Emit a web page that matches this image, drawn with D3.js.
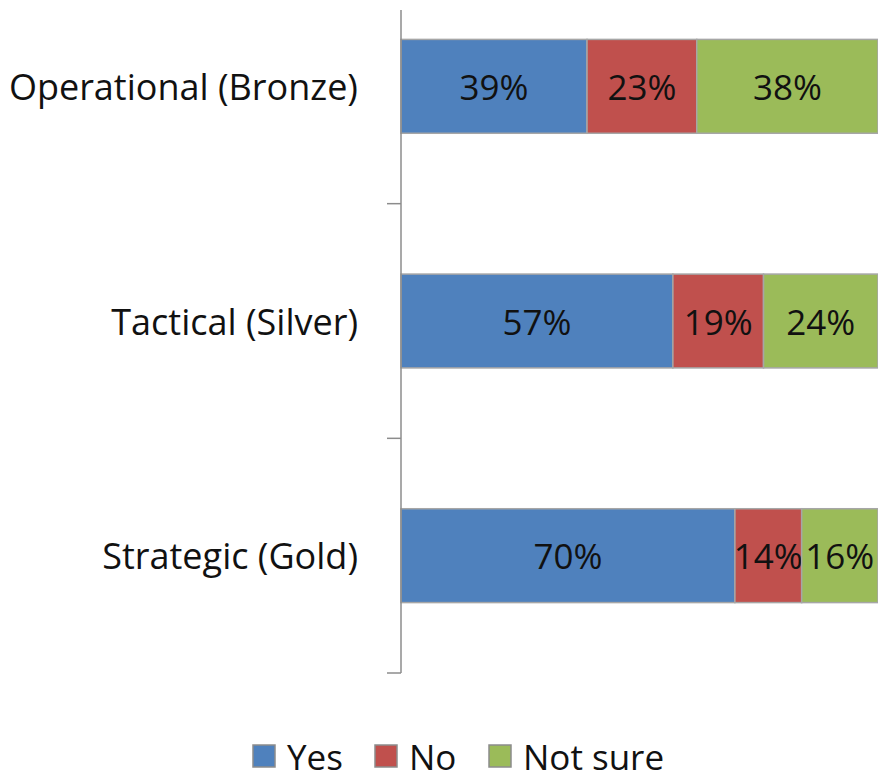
<!DOCTYPE html>
<html>
<head>
<meta charset="utf-8">
<script src="https://cdn.jsdelivr.net/npm/d3@7"></script>
<style>
  body { margin: 0; background: #fff; }
  .svg-frame { width: 878px; height: 778px; }
  text { font-family: "Open Sans", "Noto Sans", sans-serif; fill: #111; }
</style>
</head>
<body>
<div class="svg-frame"></div>
<script>
const categories = ["Operational (Bronze)", "Tactical (Silver)", "Strategic (Gold)"]
const seriesNames = ["Yes", "No", "Not sure"]
const yesValues = [39, 57, 70]
const noValues = [23, 19, 14]
const notSureValues = [38, 24, 16]
const colors = ["#4f81bd", "#c0504d", "#9bbb59"]

function drawViz() {
  const svg = d3.select(".svg-frame")
    .append("svg")
    .attr("width", 878)
    .attr("height", 778)

  const rows = categories.map((c, i) => ({
    category: c,
    "Yes": yesValues[i],
    "No": noValues[i],
    "Not sure": notSureValues[i]
  }))
  const stacked = d3.stack().keys(seriesNames)(rows)

  const xScale = d3.scaleLinear([0, 100], [401, 878])
  const yScale = d3.scaleBand(categories, [-31, 673])
    .paddingInner(0.6)
    .paddingOuter(0.3)
  const colorScale = d3.scaleOrdinal(seriesNames, colors)
  const fontSize = 35

  // bars
  const groups = svg.selectAll("g.series")
    .data(stacked)
    .join("g")
      .attr("class", "series")
      .attr("fill", d => colorScale(d.key))

  groups.selectAll("rect")
    .data(d => d)
    .join("rect")
      .attr("x", d => xScale(d[0]))
      .attr("y", d => yScale(d.data.category))
      .attr("width", d => xScale(d[1]) - xScale(d[0]))
      .attr("height", yScale.bandwidth())
      .attr("stroke", "#a6a6a6")
      .attr("stroke-width", 1.5)

  // data labels
  groups.selectAll("text")
    .data(d => d)
    .join("text")
      .attr("x", d => (xScale(d[0]) + xScale(d[1])) / 2)
      .attr("y", d => yScale(d.data.category) + yScale.bandwidth() / 2)
      .attr("text-anchor", "middle")
      .attr("dominant-baseline", "central")
      .attr("font-size", fontSize)
      .text(d => `${d[1] - d[0]}%`)

  // axis line + ticks at band boundaries
  const step = yScale.step()
  const x0 = xScale(0)
  svg.append("line")
    .attr("x1", x0).attr("x2", x0)
    .attr("y1", 10).attr("y2", yScale.range()[1])
    .attr("stroke", "#8c8c8c")
    .attr("stroke-width", 1.5)
  svg.selectAll("line.tick")
    .data(categories)
    .join("line")
      .attr("class", "tick")
      .attr("x1", x0 - 14).attr("x2", x0)
      .attr("y1", d => yScale(d) + yScale.bandwidth() + step * yScale.paddingInner() / 2)
      .attr("y2", d => yScale(d) + yScale.bandwidth() + step * yScale.paddingInner() / 2)
      .attr("stroke", "#8c8c8c")
      .attr("stroke-width", 1.5)

  // category labels
  svg.selectAll("text.cat")
    .data(categories)
    .join("text")
      .attr("class", "cat")
      .attr("x", 358)
      .attr("y", d => yScale(d) + yScale.bandwidth() / 2)
      .attr("text-anchor", "end")
      .attr("dominant-baseline", "central")
      .attr("font-size", 36)
      .text(d => d)

  // legend
  const legendX = [253, 375, 489]
  const legend = svg.selectAll("g.legend")
    .data(seriesNames)
    .join("g")
      .attr("class", "legend")
      .attr("transform", (d, i) => `translate(${legendX[i]},745)`)
  legend.append("rect")
    .attr("width", 22).attr("height", 22)
    .attr("fill", d => colorScale(d))
    .attr("stroke", "#8c8c8c")
    .attr("stroke-width", 1.5)
  legend.append("text")
    .attr("x", 34)
    .attr("y", 11)
    .attr("dominant-baseline", "central")
    .attr("font-size", fontSize)
    .text(d => d)
}

drawViz()
</script>
</body>
</html>
